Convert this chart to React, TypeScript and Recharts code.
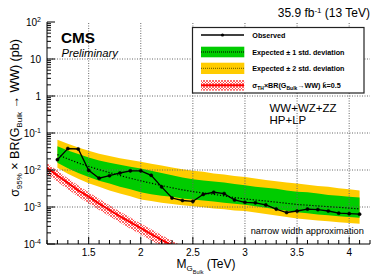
import React from "react";
import { ComposedChart, Line, Area, XAxis, YAxis, ReferenceLine } from "recharts";

const masses = [1.1, 1.2, 1.3, 1.4, 1.5, 1.6, 1.7, 1.8, 1.9, 2.0, 2.1, 2.2, 2.3, 2.4, 2.5, 2.6, 2.7, 2.8, 2.9, 3.0, 3.1, 3.2, 3.3, 3.4, 3.5, 3.6, 3.7, 3.8, 3.9, 4.0, 4.1];

const observed = [null, 0.019, 0.038, 0.037, 0.0098, 0.006, 0.007, 0.0083, 0.0095, 0.0095, 0.0072, 0.0035, 0.00175, 0.0015, 0.00142, 0.0022, 0.0025, 0.0023, 0.00155, 0.00134, 0.0013, 0.00114, 0.00088, 0.00071, 0.00078, 0.00088, 0.00085, 0.00078, 0.00068, 0.00066, 0.00064];
const expected = [null, 0.026, 0.02, 0.0155, 0.0125, 0.0102, 0.0085, 0.0071, 0.006, 0.0051, 0.0044, 0.0038, 0.0033, 0.0029, 0.0026, 0.0024, 0.0022, 0.002, 0.0018, 0.00166, 0.00155, 0.00145, 0.00135, 0.00126, 0.00117, 0.00112, 0.00107, 0.00102, 0.00098, 0.00093, 0.00089];
const yellowHi = [null, 0.066, 0.0513, 0.0407, 0.0331, 0.0275, 0.024, 0.0209, 0.0186, 0.0166, 0.0148, 0.0132, 0.0117, 0.0105, 0.0095, 0.0089, 0.0081, 0.0076, 0.0069, 0.0065, 0.0059, 0.0054, 0.005, 0.0046, 0.0043, 0.004, 0.0037, 0.0035, 0.0032, 0.003, 0.0028];
const greenHi = [null, 0.0437, 0.0339, 0.0269, 0.0219, 0.0182, 0.0158, 0.0138, 0.0123, 0.011, 0.0095, 0.0083, 0.0072, 0.0063, 0.0056, 0.0052, 0.0049, 0.0046, 0.0042, 0.0039, 0.0035, 0.0033, 0.0031, 0.0028, 0.0026, 0.0025, 0.0023, 0.0021, 0.002, 0.0019, 0.0018];
const greenLo = [null, 0.0158, 0.0112, 0.0083, 0.0065, 0.0051, 0.0043, 0.0035, 0.003, 0.0025, 0.0022, 0.002, 0.0019, 0.0017, 0.0016, 0.0015, 0.0014, 0.0013, 0.00123, 0.00115, 0.00105, 0.00095, 0.00087, 0.00079, 0.00072, 0.00068, 0.00063, 0.0006, 0.00056, 0.00054, 0.00051];
const yellowLo = [null, 0.0115, 0.0079, 0.0058, 0.0044, 0.0035, 0.0028, 0.0023, 0.00195, 0.0016, 0.00145, 0.0013, 0.0012, 0.00112, 0.00105, 0.00098, 0.00091, 0.00087, 0.00081, 0.00078, 0.00071, 0.00065, 0.00059, 0.00054, 0.00049, 0.00046, 0.00043, 0.00041, 0.00039, 0.00037, 0.00035];

// theory curve, 1.1 .. 2.5 TeV
const theory = [0.0115, 0.0071, 0.0045, 0.0028, 0.0019, 0.00123, 0.00083, 0.00056, 0.00039, 0.00027, 0.000186, 0.000129, 0.000091, 0.000065, 0.000046];
const theoryHi = [0.0155, 0.0095, 0.006, 0.0038, 0.0025, 0.00166, 0.00112, 0.00076, 0.00052, 0.00036, 0.00025, 0.000174, 0.000123, 0.000087, 0.000062];
const theoryLo = [0.0078, 0.0048, 0.003, 0.0019, 0.00126, 0.00083, 0.00056, 0.00038, 0.00026, 0.000182, 0.000126, 0.000087, 0.000062, 0.000044, 0.000031];

const xMajor = [1.5, 2, 2.5, 3, 3.5, 4];
const xMajorLabels = ["1.5", "2", "2.5", "3", "3.5", "4"];
const yMajor = [1e-4, 1e-3, 1e-2, 1e-1, 1, 10, 100];
const yGrid = [1e-3, 1e-2, 1e-1, 1, 10];

const xTicks: number[] = [];
for (let i = 11; i <= 42; i++) xTicks.push(i / 10);
const yTicks: number[] = [];
for (let e = -4; e < 2; e++) for (let k = 1; k <= 9; k++) yTicks.push(k * Math.pow(10, e));
yTicks.push(100);

const data = masses.map((m, i) => ({
  m,
  obs: observed[i],
  exp: expected[i],
  yb: yellowHi[i] != null ? [yellowLo[i], yellowHi[i]] : null,
  gb: greenHi[i] != null ? [greenLo[i], greenHi[i]] : null,
  th: i < theory.length ? theory[i] : null,
  thb: i < theory.length ? [theoryLo[i], theoryHi[i]] : null,
}));

const FONT = "'Liberation Sans', Arial, Helvetica, sans-serif";
const PLOT_LEFT = 47;
const PLOT_BOTTOM = 244;

const XTick = (props: any) => {
  const { x, payload } = props;
  const idx = xMajor.findIndex((v) => Math.abs(v - payload.value) < 1e-6);
  const major = idx >= 0;
  return (
    <g>
      <line x1={x} x2={x} y1={PLOT_BOTTOM} y2={PLOT_BOTTOM - (major ? 7 : 4)} stroke="#000" />
      {major && (
        <text x={x} y={PLOT_BOTTOM + 11.5} textAnchor="middle" fontSize={10} fontFamily={FONT} fill="#000">
          {xMajorLabels[idx]}
        </text>
      )}
    </g>
  );
};

const YTick = (props: any) => {
  const { y, payload } = props;
  const lg = Math.log10(payload.value);
  const e = Math.round(lg);
  const major = Math.abs(lg - e) < 1e-6;
  return (
    <g>
      <line x1={PLOT_LEFT} x2={PLOT_LEFT + (major ? 8 : 4)} y1={y} y2={y} stroke="#000" />
      {major && (
        <text x={41} y={y + 3.5} textAnchor="end" fontSize={10} fontFamily={FONT} fill="#000">
          {e === 0 ? "1" : e === 1 ? "10" : (
            <>
              10<tspan dy={-4} fontSize={7}>{e}</tspan>
            </>
          )}
        </text>
      )}
    </g>
  );
};

const Overlay = () => (
  <svg width={386} height={277} style={{ position: "absolute", left: 0, top: 0, pointerEvents: "none" }}>
    <defs>
      <pattern id="hatch" patternUnits="userSpaceOnUse" width="3" height="3">
        <path d="M0,3 L3,0 M0,0 L3,3" stroke="#ff2a2a" strokeWidth="0.7" />
      </pattern>
    </defs>
    <g fontFamily={FONT} fill="#000">
      <text x={370} y={16.5} textAnchor="end" fontSize={12}>
        35.9 fb<tspan dy={-4} fontSize={8}>-1</tspan><tspan dy={4}> (13 TeV)</tspan>
      </text>
      <text x={61} y={42.7} fontSize={15.3} fontWeight="bold">CMS</text>
      <text x={61.5} y={57.3} fontSize={11.3} fontStyle="italic">Preliminary</text>

      <rect x={192.5} y={27.5} width={171.5} height={65.5} fill="#fff" stroke="#222" strokeWidth={1.2} />
      <line x1={201} x2={244} y1={35} y2={35} stroke="#000" strokeWidth={1.3} />
      <circle cx={222.5} cy={35} r={1.6} fill="#000" />
      <rect x={201} y={46.7} width={43.3} height={10.6} fill="#00cc00" />
      <line x1={201} x2={244} y1={52} y2={52} stroke="#000" strokeWidth={1} strokeDasharray="1 1" />
      <rect x={201} y={62.7} width={43.3} height={11.3} fill="#ffcc00" />
      <line x1={201} x2={244} y1={68.3} y2={68.3} stroke="#665500" strokeWidth={1} strokeDasharray="1 1" />
      <rect x={201} y={80} width={43.3} height={10.7} fill="url(#hatch)" />
      <line x1={201} x2={244} y1={85.3} y2={85.3} stroke="#ff0000" strokeWidth={2} />

      <g fontSize={7.2} fontWeight="bold">
        <text x={252.3} y={37.5}>Observed</text>
        <text x={252.3} y={54.8}>Expected ± 1 std. deviation</text>
        <text x={252.3} y={70.8}>Expected ± 2 std. deviation</text>
        <text x={252.3} y={87.5}>
          σ<tspan dy={2} fontSize={5}>TH</tspan><tspan dy={-2}>×BR(G</tspan><tspan dy={2} fontSize={5}>Bulk</tspan><tspan dy={-2}>→WW) k̃=0.5</tspan>
        </text>
      </g>

      <text x={269.5} y={111.5} fontSize={11.5}>WW+WZ+ZZ</text>
      <text x={269.5} y={124} fontSize={11.5}>HP+LP</text>
      <text x={250.7} y={234.3} fontSize={9.25}>narrow width approximation</text>

      <text x={176.5} y={268} fontSize={12}>
        M<tspan dy={2.5} fontSize={8}>G</tspan><tspan dy={3} fontSize={5.5}>Bulk</tspan><tspan dy={-5.5} fontSize={12}>  (TeV)</tspan>
      </text>

      <text transform="translate(19,118) rotate(-90)" textAnchor="middle" fontSize={12.5}>
        σ<tspan dy={3} fontSize={8}>95%</tspan><tspan dy={-3}> × BR(G</tspan><tspan dy={3} fontSize={8}>Bulk</tspan><tspan dy={-3}> → WW) (pb)</tspan>
      </text>
    </g>
  </svg>
);

export default function App() {
  return (
    <div style={{ position: "absolute", left: 0, top: 0, width: 386, height: 277, background: "#fff" }}>
      <ComposedChart width={386} height={277} data={data} margin={{ top: 22, right: 16, bottom: 0, left: 0 }}>
        <XAxis
          dataKey="m"
          type="number"
          domain={[1.1, 4.2]}
          ticks={xTicks}
          interval={0}
          tick={<XTick />}
          tickLine={false}
          axisLine={{ stroke: "#000" }}
          height={33}
          allowDataOverflow
        />
        <XAxis xAxisId="top" orientation="top" type="number" domain={[1.1, 4.2]} tick={false} tickLine={false} height={0} axisLine={{ stroke: "#000" }} />
        <YAxis
          type="number"
          scale="log"
          domain={[1e-4, 100]}
          ticks={yTicks}
          interval={0}
          tick={<YTick />}
          tickLine={false}
          axisLine={{ stroke: "#000" }}
          width={47}
          allowDataOverflow
        />
        <YAxis yAxisId="right" orientation="right" type="number" domain={[0, 1]} tick={false} tickLine={false} width={0} axisLine={{ stroke: "#000" }} />

        <Area dataKey="thb" stroke="none" fill="url(#hatch)" fillOpacity={1} isAnimationActive={false} />
        <Area dataKey="yb" stroke="none" fill="#ffcc00" fillOpacity={1} isAnimationActive={false} />
        <Area dataKey="gb" stroke="none" fill="#00cc00" fillOpacity={1} isAnimationActive={false} />

        {xMajor.map((v) => (
          <ReferenceLine key={"vx" + v} x={v} stroke="#666" strokeDasharray="1 1.5" />
        ))}
        {yGrid.map((v) => (
          <ReferenceLine key={"hy" + v} y={v} stroke="#666" strokeDasharray="1 1.5" />
        ))}

        <Line dataKey="th" stroke="#ff0000" strokeWidth={2} dot={false} isAnimationActive={false} />
        <Line dataKey="exp" stroke="#000" strokeWidth={1.2} strokeDasharray="1.2 1.8" dot={false} isAnimationActive={false} />
        <Line dataKey="obs" stroke="#000" strokeWidth={1.3} dot={{ r: 1.6, fill: "#000", stroke: "#000", strokeWidth: 0.5 }} isAnimationActive={false} />
      </ComposedChart>
      <Overlay />
    </div>
  );
}
